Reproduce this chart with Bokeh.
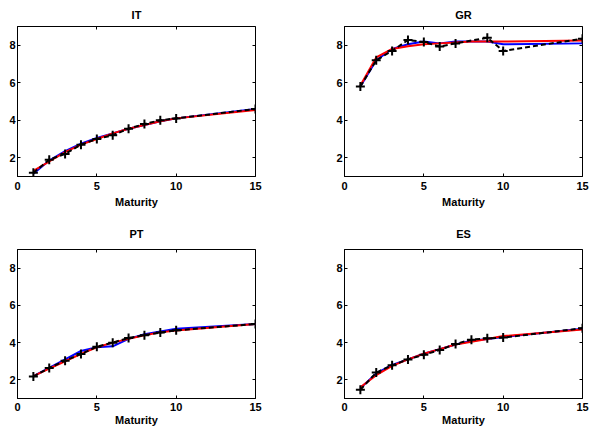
from bokeh.plotting import figure
from bokeh.layouts import column, row
from bokeh.models import LinearAxis, FixedTicker, CustomJSTickFormatter, Range1d
from bokeh.embed import file_html
from bokeh.resources import INLINE

maturity = [1, 2, 3, 4, 5, 6, 7, 8, 9, 10, 15]
gr_obs_maturity = [1, 2, 3, 4, 5, 6, 7, 9, 10, 15]

it_obs = [1.2, 1.9, 2.2, 2.7, 3.0, 3.2, 3.55, 3.8, 4.0, 4.1, 4.6]
it_blue = [1.15, 1.85, 2.35, 2.75, 3.05, 3.3, 3.55, 3.75, 3.95, 4.1, 4.6]
it_red = [1.3, 1.8, 2.3, 2.7, 3.0, 3.3, 3.55, 3.75, 3.95, 4.1, 4.55]

gr_obs = [5.8, 7.2, 7.7, 8.28, 8.18, 7.93, 8.1, 8.4, 7.7, 8.35]
gr_blue = [5.8, 7.2, 7.8, 8.05, 8.2, 8.1, 8.2, 8.2, 8.2, 8.05, 8.1]
gr_red = [5.85, 7.35, 7.8, 7.95, 8.05, 8.1, 8.15, 8.2, 8.2, 8.2, 8.25]

pt_obs = [2.18, 2.64, 3.03, 3.39, 3.78, 4.0, 4.25, 4.4, 4.54, 4.66, 5.0]
pt_blue = [2.2, 2.65, 3.1, 3.55, 3.75, 3.8, 4.2, 4.45, 4.6, 4.75, 5.0]
pt_red = [2.2, 2.6, 3.0, 3.4, 3.75, 4.0, 4.2, 4.4, 4.55, 4.65, 5.0]

es_obs = [1.47, 2.39, 2.78, 3.1, 3.35, 3.6, 3.93, 4.16, 4.23, 4.27, 4.77]
es_blue = [1.55, 2.35, 2.8, 3.1, 3.4, 3.65, 3.9, 4.1, 4.2, 4.3, 4.75]
es_red = [1.6, 2.25, 2.75, 3.1, 3.4, 3.65, 3.9, 4.05, 4.2, 4.35, 4.7]

x_ticks = [0, 5, 10, 15]
y_ticks = [2, 4, 6, 8]

FONT = "Liberation Sans"


def style_axis(ax, ticks, labels=True):
    ax.ticker = FixedTicker(ticks=ticks)
    ax.major_tick_in = 3
    ax.major_tick_out = 0
    ax.minor_tick_in = 0
    ax.minor_tick_out = 0
    ax.axis_line_color = "black"
    ax.major_tick_line_color = "black"
    ax.major_label_text_font = FONT
    ax.major_label_text_font_style = "bold"
    ax.major_label_text_font_size = "11px"
    ax.major_label_text_color = "black"
    if not labels:
        ax.formatter = CustomJSTickFormatter(code="return ''")
        ax.major_label_standoff = 0
        ax.axis_line_color = None


def make(title, obs_x, obs, blue, red, width, height, bl, br, bt, bb,
         title_standoff, tick_standoff, label_standoff):
    p = figure(width=width, height=height, output_backend="svg",
               toolbar_location=None, x_range=Range1d(0, 15), y_range=Range1d(1, 9),
               min_border_left=bl, min_border_right=br, min_border_top=bt,
               min_border_bottom=bb, title=title)
    p.title.text_font = FONT
    p.title.text_font_style = "bold"
    p.title.text_font_size = "11px"
    p.title.text_color = "black"
    p.title.align = "center"
    p.title.standoff = title_standoff
    p.grid.visible = False
    p.outline_line_color = "black"
    p.outline_line_width = 1
    p.outline_line_alpha = 1
    p.background_fill_color = "white"
    p.border_fill_color = "white"
    style_axis(p.xaxis[0], x_ticks)
    style_axis(p.yaxis[0], y_ticks)
    p.xaxis[0].major_label_standoff = tick_standoff
    p.yaxis[0].major_label_standoff = 2
    p.xaxis[0].axis_label = "Maturity"
    p.xaxis[0].axis_label_text_font = FONT
    p.xaxis[0].axis_label_text_font_style = "bold"
    p.xaxis[0].axis_label_text_font_size = "11px"
    p.xaxis[0].axis_label_text_color = "black"
    p.xaxis[0].axis_label_standoff = label_standoff
    top = LinearAxis()
    style_axis(top, x_ticks, labels=False)
    p.add_layout(top, "above")
    right = LinearAxis()
    style_axis(right, y_ticks, labels=False)
    p.add_layout(right, "right")

    p.line(maturity, blue, line_color="blue", line_width=2)
    p.line(maturity, red, line_color="red", line_width=2)
    p.line(obs_x, obs, line_color="black", line_width=2, line_dash="5 3")
    p.scatter(obs_x, obs, marker="cross", size=9, line_color="black", line_width=2)
    return p


p1 = make("IT", maturity, it_obs, it_blue, it_red, 327, 215, 17, 72, 26, 39, 11, 5, 3)
p2 = make("GR", gr_obs_maturity, gr_obs, gr_blue, gr_red, 264, 215, 17, 9, 26, 39, 11, 5, 3)
p3 = make("PT", maturity, pt_obs, pt_blue, pt_red, 327, 213, 17, 72, 34, 30, 19, 4, 0)
p4 = make("ES", maturity, es_obs, es_blue, es_red, 264, 213, 17, 9, 34, 30, 19, 4, 0)

layout = column(row(p1, p2), row(p3, p4))

open("out.html", "w").write(file_html(layout, INLINE))
